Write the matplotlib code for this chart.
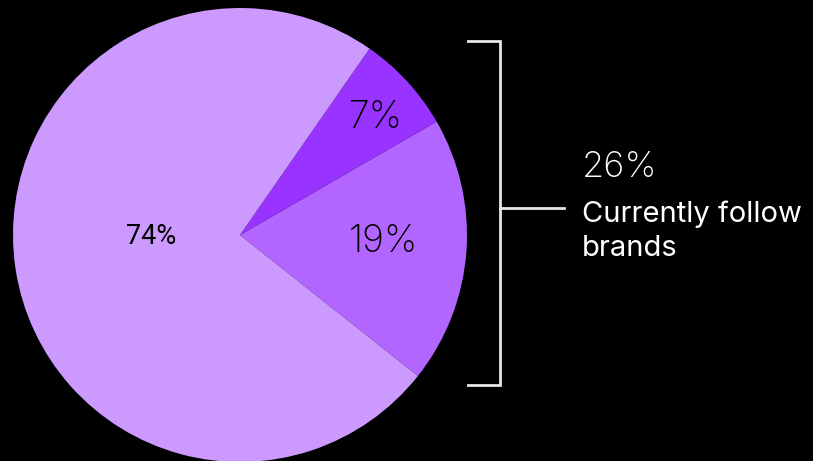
import matplotlib.pyplot as plt

# Share of respondents
labels = ['19%', '7%', '74%']
shares = [19, 7, 74]
colors = ['#B266FF', '#9933FF', '#CC99FF']

summary_value = '26%'
summary_lines = ['Currently follow', 'brands']

W, H = 813, 461
fig = plt.figure(figsize=(W / 100, H / 100), dpi=100)
fig.patch.set_facecolor('black')
ax = fig.add_axes([0, 0, 1, 1])
ax.set_facecolor('black')

# pie in pixel coordinates (y up), 19%/7% boundary at 30 degrees
cx, cy, r = 240, H - 235, 227
start = 30 - shares[0] / 100 * 360
wedges, _ = ax.pie(shares, colors=colors, center=(cx, cy), radius=r,
                   startangle=start, counterclock=True,
                   wedgeprops=dict(linewidth=0))
ax.set_xlim(0, W)
ax.set_ylim(0, H)
ax.set_aspect('equal')
ax.axis('off')

# slice labels
big = dict(family='Inter', fontweight='light', fontsize=27, color='black',
           ha='center', va='center')
ax.text(383, H - 242, labels[0], **big)
ax.text(376, H - 118, labels[1], **big)
ax.text(151, H - 236, labels[2], family='Roboto', fontsize=19.5,
        color='black', ha='center', va='center')

# bracket around the two smaller slices
lc = '#E6E6E6'
top, bot, bx = H - 41, H - 385, 500
ax.plot([468, bx, bx, 468], [top, top, bot, bot], color=lc, lw=2,
        solid_joinstyle='miter')
ax.plot([bx, 564], [H - 208, H - 208], color=lc, lw=2)

ax.text(582, H - 177, summary_value, family='Inter', fontweight='light',
        fontsize=26, color='white', ha='left', va='baseline')
for i, line in enumerate(summary_lines):
    ax.text(582, H - 222.5 - 34 * i, line, family='Inter', fontsize=21,
            color='white', ha='left', va='baseline')

fig.savefig('out.png', dpi=100, facecolor='black')
